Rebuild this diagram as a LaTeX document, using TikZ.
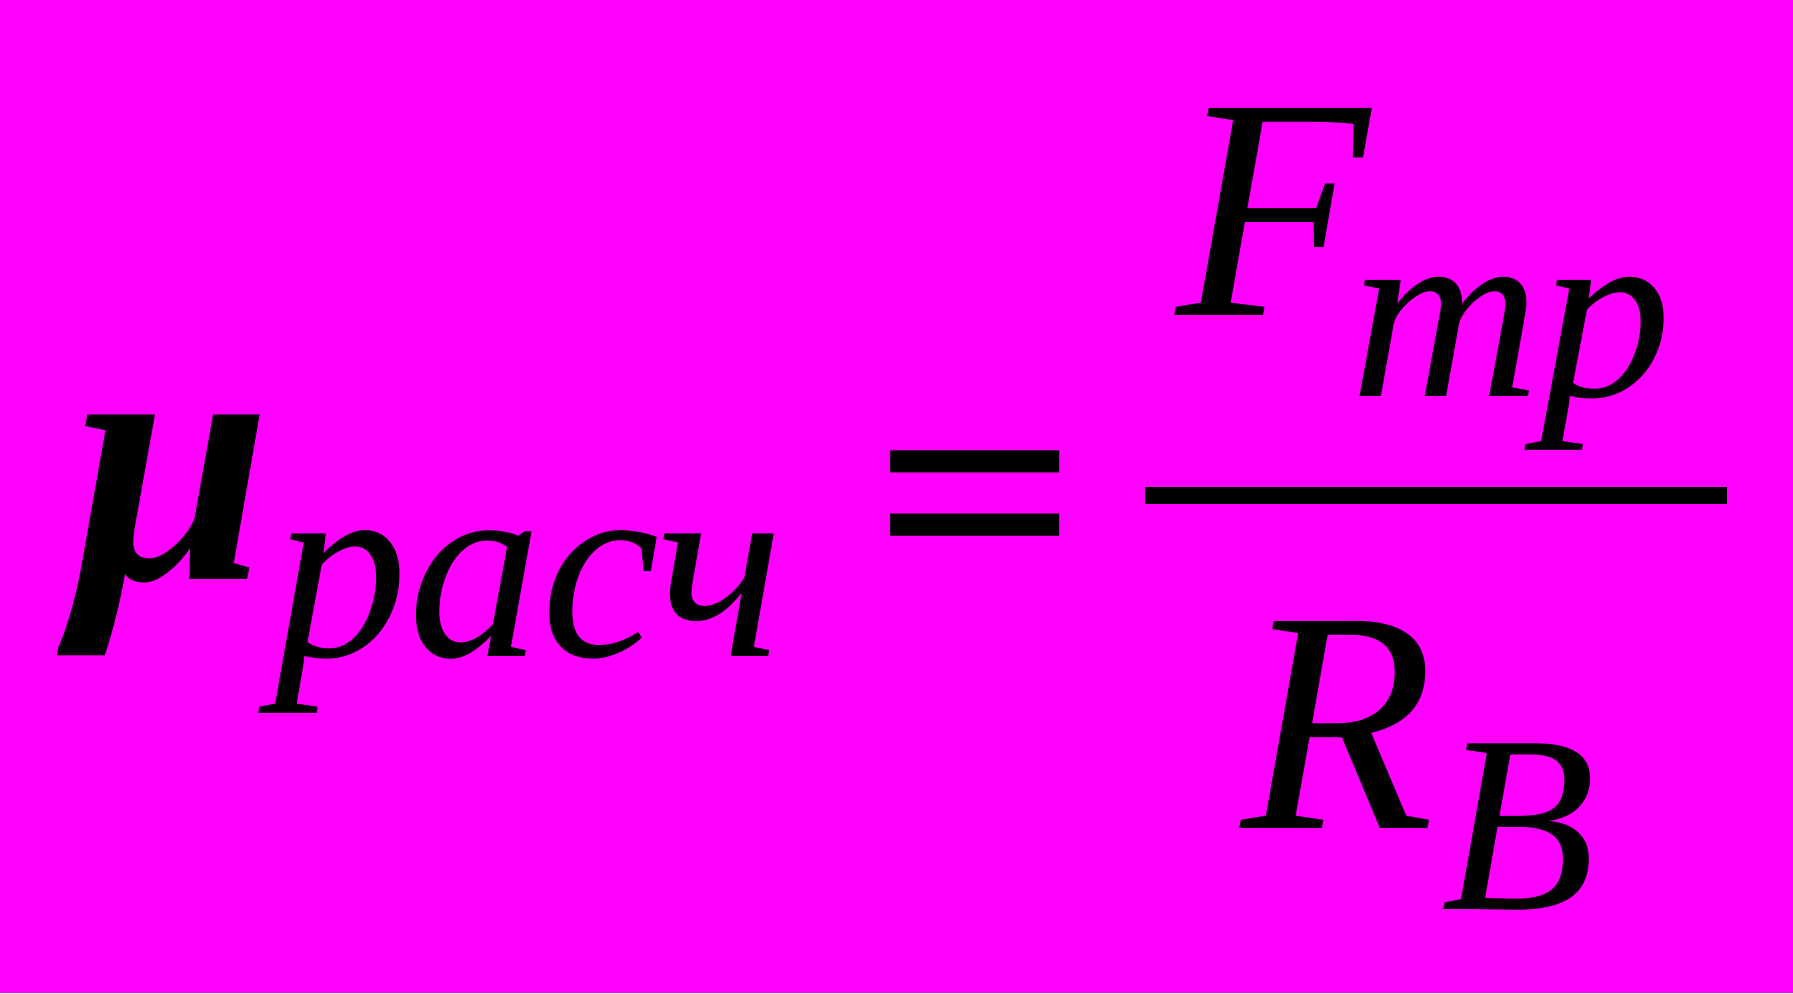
\documentclass[tikz,border=0pt]{standalone}
\usepackage{fontspec}
\setmainfont{Liberation Serif}
\usetikzlibrary{positioning}
\definecolor{bgpink}{RGB}{255,0,255}

\begin{document}
\begin{tikzpicture}[txt/.style={inner sep=0pt,anchor=base west},
  big/.style={font=\fontsize{90}{90}\selectfont\itshape},
  small/.style={font=\fontsize{72}{72}\selectfont\itshape}]

  \fill[bgpink] (0,0) rectangle (17.93,9.93);

  \node[txt,font=\fontsize{102}{102}\selectfont\bfseries\itshape] (mu) at (0.72,4.13) {μ};
  \node[txt,font=\fontsize{76}{76}\selectfont\itshape] (sub) at (2.74,3.36) {расч};
  \node[inner sep=0pt,xscale=1.15,font=\fontsize{90}{90}\selectfont\bfseries] (eq) at (9.76,4.68) {=};

  \coordinate (l) at (11.45,4.975);
  \coordinate (r) at (17.27,4.975);
  \draw[line width=0.17cm] (l) -- (r);

  \node[txt,big] (F) at (11.76,6.77) {F};
  \node[txt,font=\fontsize{72}{72}\selectfont\itshape,xscale=1.04] (tr) at (13.50,5.96) {тр};
  \node[txt,big] (R) at (12.41,1.64) {R};
  \node[txt,small] (B) at (14.41,0.84) {B};

\end{tikzpicture}
\end{document}
